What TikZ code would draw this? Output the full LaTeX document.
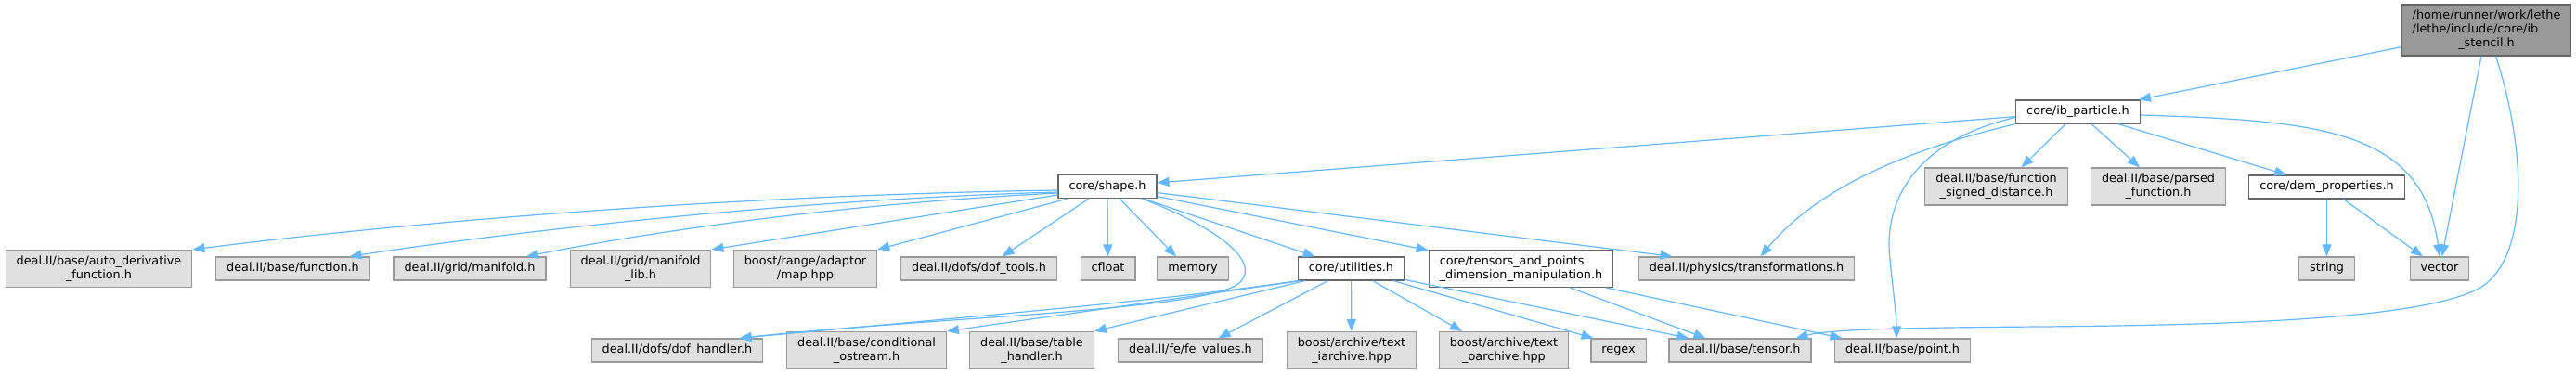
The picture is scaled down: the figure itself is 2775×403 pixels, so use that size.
\documentclass[tikz,border=0pt]{standalone}
\usepackage{fontspec}
\setmainfont{DejaVu Sans}
\usepackage{tikz}
\usetikzlibrary{arrows.meta}
\definecolor{edgeblue}{HTML}{63B8FF}
\definecolor{boxgray}{HTML}{E0E0E0}
\definecolor{bordergray}{HTML}{999999}
\definecolor{borderdark}{HTML}{666666}
\definecolor{stencilgray}{HTML}{999999}

\begin{document}
\begin{tikzpicture}[x=1pt, y=-1pt,
  filebox/.style={draw=#1, line width=1.2pt, inner xsep=11.5pt, inner ysep=0pt, minimum height=25pt, text height=9.6pt, text depth=3.1pt, font=\fontsize{12.8}{15}\selectfont},
  sysfile/.style={filebox=bordergray, fill=boxgray},
  ownfile/.style={filebox=borderdark, fill=white},
  multiline/.style={minimum height=#1, text height=, text depth=, align=center},
  include/.style={draw=edgeblue, line width=1.2pt, -{Triangle[length=13pt, width=10pt]}}]

\fill [white] (0,0) rectangle (2775,403);
\useasboundingbox (0,0) rectangle (2775,403);

% FILES

\node [ownfile, fill=stencilgray, multiline=55pt] (stencil) at (2678.5,32.5)
{\begin{tabular}{@{}l@{}}/home/runner/work/lethe\\/lethe/include/core/ib\\\multicolumn{1}{@{}c@{}}{\_stencil.h}\end{tabular}};

\node [ownfile] (ibparticle) at (2238.5,120.5) {core/ib\_particle.h};

\node [ownfile] (shape) at (1193,201) {core/shape.h};
\node [sysfile, multiline=40pt] (signeddist) at (2150.5,201) {deal.II/base/function\\\_signed\_distance.h};
\node [sysfile, multiline=40pt] (parsedfn) at (2325,201) {deal.II/base/parsed\\\_function.h};
\node [ownfile] (demprops) at (2506.5,201.5) {core/dem\_properties.h};

\node [sysfile, multiline=40pt] (autoderiv) at (106.5,289.5) {deal.II/base/auto\_derivative\\\_function.h};
\node [sysfile] (function) at (315.5,289.5) {deal.II/base/function.h};
\node [sysfile] (manifold) at (506,289.5) {deal.II/grid/manifold.h};
\node [sysfile, multiline=40pt] (manifoldlib) at (690,289.5) {deal.II/grid/manifold\\\_lib.h};
\node [sysfile, multiline=40pt] (mapadaptor) at (867.5,289.5) {boost/range/adaptor\\/map.hpp};
\node [sysfile] (doftools) at (1054.5,289.5) {deal.II/dofs/dof\_tools.h};
\node [sysfile] (cfloat) at (1193.5,289.5) {cfloat};
\node [sysfile] (memory) at (1285,289.5) {memory};
\node [ownfile] (utilities) at (1455.5,289.5) {core/utilities.h};
\node [ownfile, multiline=40pt, align=left] (tensorsdim) at (1638.5,289.5) {core/tensors\_and\_points\\\_dimension\_manipulation.h};
\node [sysfile] (transforms) at (1881.5,289.5) {deal.II/physics/transformations.h};
\node [sysfile] (string) at (2506.5,289.5) {string};
\node [sysfile] (vector) at (2628,289.5) {vector};

\node [sysfile] (dofhandler) at (729.5,377.5) {deal.II/dofs/dof\_handler.h};
\node [sysfile, multiline=40pt] (condostream) at (933.5,377.5) {deal.II/base/conditional\\\_ostream.h};
\node [sysfile, multiline=40pt] (tablehandler) at (1111.5,377.5) {deal.II/base/table\\\_handler.h};
\node [sysfile] (fevalues) at (1282.5,377.5) {deal.II/fe/fe\_values.h};
\node [sysfile, multiline=40pt] (iarchive) at (1456,377.5) {boost/archive/text\\\_iarchive.hpp};
\node [sysfile, multiline=40pt] (oarchive) at (1620,377.5) {boost/archive/text\\\_oarchive.hpp};
\node [sysfile] (regex) at (1743.5,377.5) {regex};
\node [sysfile] (tensor) at (1874.5,377.5) {deal.II/base/tensor.h};
\node [sysfile] (point) at (2049.5,377.5) {deal.II/base/point.h};

% INCLUDES

\draw [include] (stencil) -- (ibparticle);
\draw [include] (stencil) -- (vector);
\draw [include] ([xshift=10pt]stencil.south) .. controls (2718,150) and (2728,270) .. (2675,308)
  .. controls (2620,343) and (2420,350) .. (2200,352) .. controls (2050,353) and (1970,355) .. ([xshift=60pt]tensor.north);

\draw [include] (ibparticle) -- (shape);
\draw [include] (ibparticle.south west) .. controls (2060,160) and (1960,200) .. ([xshift=15pt]transforms.north);
\draw [include] ([yshift=-6pt]ibparticle.west) .. controls (2070,150) and (2028,210) .. (2036,280)
  .. controls (2040,320) and (2043,340) .. ([xshift=-6.5pt]point.north);
\draw [include] (ibparticle) -- ([xshift=27pt]signeddist.north);
\draw [include] (ibparticle) -- ([xshift=-20pt]parsedfn.north);
\draw [include] (ibparticle) -- (demprops);
\draw [include] ([yshift=-3.5pt]ibparticle.east) .. controls (2500,130) and (2610,140) .. (vector.north);
\draw [include] (demprops) -- (string);
\draw [include] (demprops) -- (vector);

\draw [include] ([yshift=-4pt]shape.west) .. controls (800,210) and (450,238) .. (autoderiv.north east);
\draw [include] ([yshift=-6pt]shape.west) .. controls (850,215) and (550,250) .. ([xshift=61pt]function.north);
\draw [include] ([yshift=-7pt]shape.west) .. controls (900,220) and (700,250) .. ([xshift=61pt]manifold.north);
\draw [include] ([yshift=-9pt]shape.west) -- (manifoldlib.north east);
\draw [include] ([xshift=-43pt]shape.south) -- (mapadaptor.north east);
\draw [include] ([xshift=-20pt]shape.south) -- ([xshift=25pt]doftools.north);
\draw [include] (shape) -- (cfloat);
\draw [include] ([xshift=13pt]shape.south) -- ([xshift=-18pt]memory.north);
\draw [include] ([xshift=37pt]shape.south) .. controls (1300,240) and (1362,280) .. (1335,305)
  .. controls (1300,335) and (1000,342) .. ([xshift=67pt]dofhandler.north);
\draw [include] (shape) -- (utilities);
\draw [include] (shape) -- (tensorsdim);
\draw [include] (shape) -- ([xshift=-80pt]transforms.north);

\draw [include] (utilities.south west) .. controls (1250,325) and (1000,345) .. ([xshift=67pt]dofhandler.north);
\draw [include] ([xshift=3pt]utilities.south west) -- (condostream.north east);
\draw [include] ([xshift=8pt]utilities.south west) -- (tablehandler.north east);
\draw [include] (utilities) -- ([xshift=30pt]fevalues.north);
\draw [include] (utilities) -- (iarchive);
\draw [include] (utilities) -- ([xshift=-45pt]oarchive.north);
\draw [include] (utilities) -- ([xshift=-27pt]regex.north);
\draw [include] (utilities) -- ([xshift=-55pt]tensor.north);
\draw [include] ([xshift=53pt]tensorsdim.south) -- ([xshift=-37pt]tensor.north);
\draw [include] ([xshift=92pt]tensorsdim.south) -- ([xshift=-65pt]point.north);

\end{tikzpicture}
\end{document}
